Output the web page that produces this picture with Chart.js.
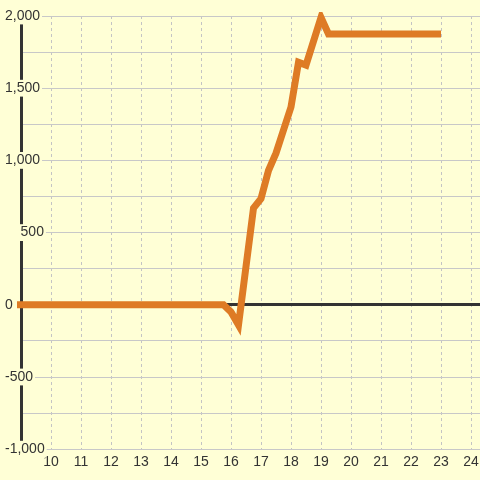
<!DOCTYPE html>
<html lang="en">
<head>
<meta charset="UTF-8">
<title>Line chart</title>
<script src="https://cdn.jsdelivr.net/npm/chart.js"></script>
<style>
  html, body { margin: 0; padding: 0; background: #ffffd6; }
  #wrap { width: 480px; height: 480px; }
</style>
</head>
<body>
<div id="wrap"><canvas id="chart"></canvas></div>
<script>
// hour of day -> value
const hours  = [8.75, 15.75, 16, 16.25, 16.75, 17, 17.25, 17.5, 18, 18.25, 18.5, 19, 19.25, 23];
const values = [0, 0, -50, -140, 670, 735, 930, 1050, 1370, 1680, 1660, 1990, 1875, 1875];

const yTicks = { min: -1000, max: 2000, step: 250, labelStep: 500 };
const xTicks = { min: 9, max: 24.3, step: 1, firstLabel: 10 };

const bg = '#ffffd6';
const textColor = '#333333';
const font = { family: '"Liberation Sans", Arial, sans-serif', size: 14 };

new Chart(document.getElementById('chart'), {
  type: 'line',
  data: {
    datasets: [{
      data: hours.map((h, i) => ({ x: h, y: values[i] })),
      borderColor: '#de7b25',
      borderWidth: 7,
      pointRadius: 0,
      tension: 0,
      fill: false,
      clip: 4
    }]
  },
  options: {
    responsive: true,
    maintainAspectRatio: false,
    animation: false,
    layout: { padding: { top: 16, left: 5, right: 0, bottom: 4 } },
    plugins: { legend: { display: false }, tooltip: { enabled: false } },
    scales: {
      x: {
        type: 'linear',
        min: xTicks.min,
        max: xTicks.max,
        afterFit: s => { s.paddingLeft = 0; s.paddingRight = 0; },
        border: { display: false, dash: [3, 3] },
        grid: {
          drawTicks: false,
          borderDash: [3, 3],
          lineWidth: 1,
          color: ctx => ctx.tick && ctx.tick.value < xTicks.firstLabel ? 'rgba(0,0,0,0)' : '#c4c4c4'
        },
        ticks: {
          stepSize: xTicks.step,
          includeBounds: false,
          autoSkip: false,
          maxRotation: 0,
          padding: 5,
          color: textColor,
          font: font,
          callback: v => v >= xTicks.firstLabel ? String(v) : ''
        }
      },
      y: {
        min: yTicks.min,
        max: yTicks.max,
        afterFit: s => { s.width = 16; s.paddingTop = 0; s.paddingBottom = 0; },
        border: { display: true, color: '#333333', width: 3 },
        grid: {
          drawTicks: false,
          color: ctx => ctx.tick && ctx.tick.value === 0 ? '#333333' : '#c8c8c8',
          lineWidth: ctx => ctx.tick && ctx.tick.value === 0 ? 3 : 1
        },
        ticks: {
          stepSize: yTicks.step,
          // mirrored labels are not clipped to the narrow axis box; pull them back left
          mirror: true,
          padding: -16,
          color: textColor,
          font: font,
          showLabelBackdrop: ctx => !!ctx.tick && ctx.tick.value % yTicks.labelStep === 0,
          backdropColor: bg,
          backdropPadding: { top: 0, bottom: 0, left: 2, right: 2 },
          callback: v => {
            if (v % yTicks.labelStep !== 0) return '';
            const s = v.toLocaleString('en-US');
            // the 500 label sits further right in the original
            return v === 500 ? '    ' + s : s;
          }
        }
      }
    }
  }
});
</script>
</body>
</html>
